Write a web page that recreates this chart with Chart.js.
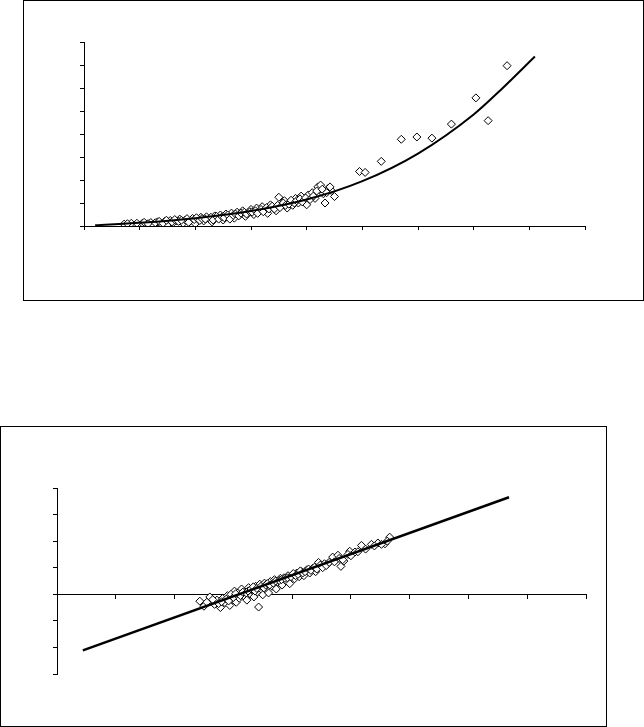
<!DOCTYPE html>
<html>
<head>
<meta charset="utf-8">
<script src="https://cdn.jsdelivr.net/npm/chart.js@4/dist/chart.umd.min.js"></script>
<style>
  html, body { margin: 0; padding: 0; background: #fff; }
  body { width: 644px; height: 727px; position: relative; overflow: hidden; }
  .box { position: absolute; box-sizing: border-box; border: 1px solid #000; background: #fff; }
  #box1 { left: 23px; top: 0px; width: 621px; height: 301px; }
  #box2 { left: 0px; top: 426px; width: 607px; height: 301px; }
  canvas { display: block; }
</style>
</head>
<body>
<div class="box" id="box1"><canvas id="chart1" width="619" height="299"></canvas></div>
<div class="box" id="box2"><canvas id="chart2" width="605" height="299"></canvas></div>
<script>
// --- Chart 1: scatter with curved trend line ---
const pts1X = [0.72, 0.85, 1.0, 1.05, 1.12, 1.2, 1.25, 1.32, 1.38, 1.45, 1.5, 1.55, 1.6, 1.66, 1.72, 1.78, 1.82, 1.9, 1.95, 2.0,
  2.05, 2.1, 2.15, 2.2, 2.25, 2.3, 2.35, 2.4, 2.45, 2.5, 2.55, 2.6, 2.65, 2.7, 2.75, 2.8, 2.85, 2.9, 2.95, 3.0,
  3.05, 3.1, 3.15, 3.2, 3.25, 3.3, 3.35, 3.4, 3.45, 3.5, 3.55, 3.6, 3.65, 3.7, 3.75, 3.8, 3.85, 3.9, 3.95, 4.0,
  4.03, 4.1, 4.15, 4.2, 4.25, 4.3, 4.33, 4.38, 4.44, 4.5,
  0.78, 0.95, 1.08, 1.15, 1.28, 1.35, 1.42, 1.48, 1.58, 1.63, 1.7, 1.75, 1.85, 1.88, 1.98, 2.02, 2.08, 2.12, 2.18, 2.28,
  2.32, 2.38, 2.42, 2.48, 2.52, 2.58, 2.62, 2.68, 2.72, 2.78, 2.82, 2.88, 2.92, 2.98, 3.02, 3.08, 3.12, 3.18, 3.22, 3.28,
  3.32, 3.38, 3.42, 3.48, 3.52, 3.58, 3.62, 3.68, 3.72, 3.78, 3.82, 3.88, 3.92, 3.98, 4.06, 4.12, 4.18, 4.28, 4.36, 4.42,
  4.95, 5.05, 5.34, 5.70, 5.98, 6.25, 6.6, 7.04, 7.26, 7.6];
const pts1Y = [0.08, 0.12, 0.04, 0.12, 0.08, 0.15, 0.03, 0.18, 0.1, 0.2, 0.06, 0.24, 0.14, 0.22, 0.3, 0.12, 0.26, 0.2, 0.33, 0.1,
  0.28, 0.38, 0.22, 0.4, 0.3, 0.18, 0.44, 0.35, 0.48, 0.26, 0.52, 0.42, 0.56, 0.34, 0.6, 0.5, 0.66, 0.42, 0.58, 0.72,
  0.5, 0.78, 0.62, 0.84, 0.7, 0.55, 0.92, 0.8, 0.66, 1.25, 0.92, 1.1, 0.78, 1.05, 0.9, 1.2, 1.0, 1.3, 1.12, 0.92,
  1.35, 1.45, 1.2, 1.7, 1.78, 1.4, 1.0, 1.62, 1.55, 1.28,
  0.1, 0.12, 0.16, 0.1, 0.14, 0.2, 0.12, 0.25, 0.18, 0.28, 0.2, 0.25, 0.32, 0.16, 0.28, 0.36, 0.24, 0.32, 0.3, 0.38,
  0.26, 0.42, 0.3, 0.4, 0.36, 0.48, 0.3, 0.46, 0.52, 0.44, 0.56, 0.6, 0.52, 0.62, 0.6, 0.66, 0.55, 0.72, 0.62, 0.8,
  0.74, 0.86, 0.74, 0.9, 0.8, 1.0, 0.9, 0.95, 1.12, 1.0, 1.1, 1.18, 1.05, 1.22, 1.15, 1.3, 1.52, 1.6, 1.45, 1.7,
  2.37, 2.33, 2.81, 3.77, 3.87, 3.82, 4.43, 5.57, 4.58, 6.97];
const curve1X = [0.2, 1.0, 2.0, 3.0, 4.0, 5.0, 6.0, 7.0, 7.5, 8.1];
const curve1Y = [0.03, 0.14, 0.34, 0.65, 1.15, 1.95, 3.15, 4.85, 5.95, 7.37];

// --- Chart 2: scatter with straight trend line ---
const pts2X = [2.43, 2.5, 2.6, 2.68, 2.72, 2.78, 2.82, 2.86, 2.9, 2.94, 2.98, 3.02, 3.05, 3.08, 3.1, 3.14, 3.17, 3.2, 3.23, 3.26,
  3.29, 3.32, 3.35, 3.38, 3.41, 3.43, 3.45, 3.48, 3.5, 3.53, 3.56, 3.6, 3.63, 3.66, 3.7, 3.73, 3.76, 3.8, 3.83, 3.86,
  3.9, 3.93, 3.96, 4.0, 4.04, 4.08, 4.12, 4.16, 4.2, 4.25, 4.3, 4.35, 4.4, 4.45, 4.5, 4.55, 4.61, 4.69, 4.78, 4.83,
  4.88, 4.98, 5.07, 5.18, 5.35, 5.46, 5.58, 5.66,
  2.55, 2.65, 2.75, 2.8, 2.88, 2.92, 2.96, 3.0, 3.04, 3.12, 3.16, 3.22, 3.25, 3.3, 3.34, 3.37, 3.4, 3.47, 3.52, 3.55,
  3.58, 3.62, 3.68, 3.72, 3.78, 3.82, 3.88, 3.92, 3.98, 4.02, 4.06, 4.1, 4.14, 4.18, 4.22, 4.28, 4.32, 4.38, 4.42, 4.48,
  4.52, 4.58, 4.63, 4.72, 4.8, 4.86, 4.95, 5.0, 5.12, 5.25, 5.4, 5.52, 5.62];
const pts2Y = [-0.26, -0.45, -0.1, -0.38, -0.22, -0.5, -0.15, -0.32, -0.05, -0.42, -0.2, 0.12, -0.3, 0.05, -0.15, 0.2, -0.05, 0.1, -0.22, 0.25,
  0.0, 0.15, -0.1, 0.3, 0.08, -0.48, 0.38, 0.18, -0.02, 0.42, 0.25, 0.05, 0.48, 0.3, 0.55, 0.2, 0.45, 0.6, 0.35, 0.62,
  0.5, 0.7, 0.4, 0.72, 0.58, 0.8, 0.66, 0.85, 0.7, 0.92, 0.8, 0.98, 0.85, 1.2, 1.05, 1.15, 1.15, 1.4, 1.47, 1.05,
  1.25, 1.62, 1.59, 1.84, 1.88, 1.93, 1.9, 2.15,
  -0.3, -0.2, -0.35, -0.28, -0.18, -0.25, 0.0, -0.12, 0.02, -0.05, 0.08, 0.05, 0.12, 0.2, 0.28, 0.12, 0.22, 0.3, 0.24, 0.35,
  0.4, 0.35, 0.42, 0.5, 0.52, 0.55, 0.6, 0.62, 0.66, 0.78, 0.7, 0.75, 0.88, 0.8, 0.85, 0.95, 0.9, 1.02, 0.95, 1.1,
  1.0, 1.08, 1.2, 1.22, 1.35, 1.3, 1.5, 1.45, 1.6, 1.7, 1.82, 1.88, 2.0];
const line2X = [0.44, 7.69];
const line2Y = [-2.11, 3.65];

const toPoints = (xs, ys) => xs.map((x, i) => ({x: x, y: ys[i]}));

function axis(min, max, pos) {
  return {
    type: 'linear', min: min, max: max, position: pos,
    afterFit: s => { if (s.isHorizontal()) s.height = 4; else s.width = 4; },
    ticks: { display: false, stepSize: 1 },
    grid: { display: true, drawOnChartArea: false, drawTicks: true, tickLength: 4, color: '#000', lineWidth: 1 },
    border: { display: true, color: '#000', width: 1 }
  };
}

function makeChart(id, pts, trend, xr, yr, xPos, padding, lineW, curved) {
  new Chart(document.getElementById(id), {
    type: 'scatter',
    data: {
      datasets: [
        {
          data: trend, showLine: true, pointRadius: 0, borderColor: '#000', borderWidth: lineW,
          cubicInterpolationMode: curved ? 'monotone' : 'default', order: 0
        },
        {
          data: pts, pointStyle: 'rectRot', pointRadius: 4, borderWidth: 1,
          borderColor: '#000', backgroundColor: '#fff', order: 1
        }
      ]
    },
    options: {
      responsive: false, animation: false,
      layout: { padding: padding },
      plugins: { legend: { display: false }, tooltip: { enabled: false } },
      scales: { x: axis(xr[0], xr[1], xPos), y: axis(yr[0], yr[1], 'left') }
    }
  });
}

makeChart('chart1', toPoints(pts1X, pts1Y), toPoints(curve1X, curve1Y), [0, 9], [0, 8], 'bottom',
  { left: 56, right: 58, top: 41, bottom: 70 }, 2, true);
makeChart('chart2', toPoints(pts2X, pts2Y), toPoints(line2X, line2Y), [0, 9], [-3, 4], { y: 0 },
  { left: 52, right: 20, top: 61, bottom: 52 }, 2.5, false);
</script>
</body>
</html>
